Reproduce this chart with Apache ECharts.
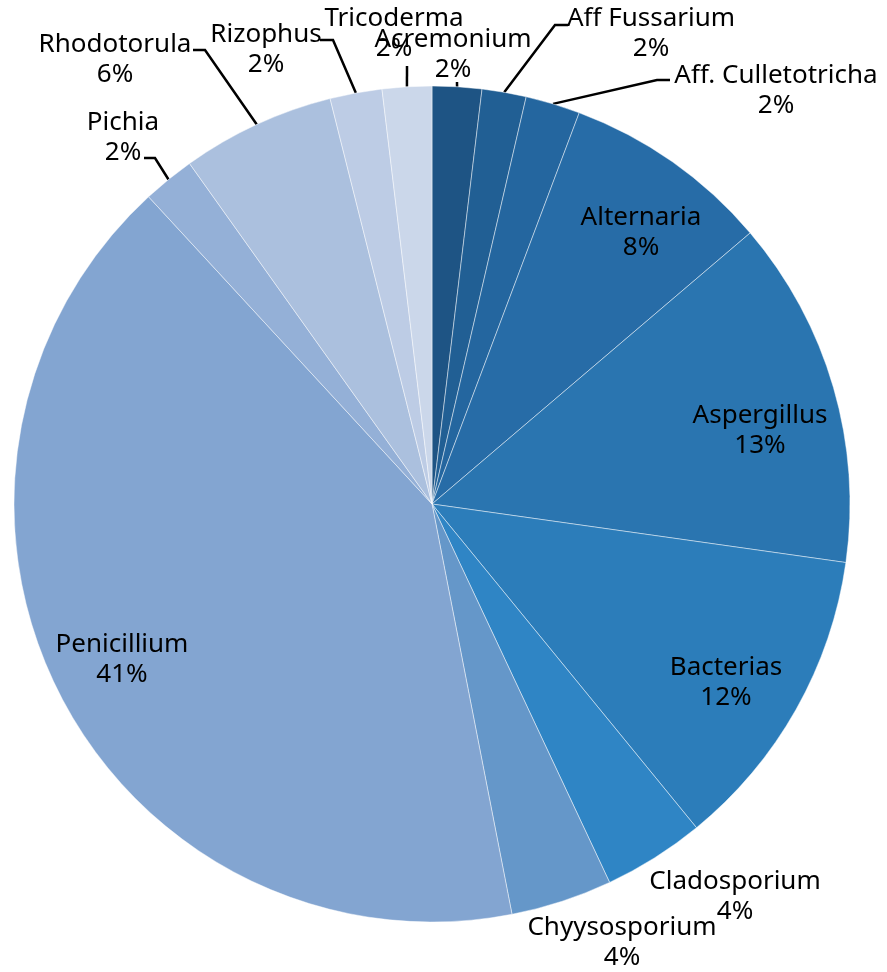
<!DOCTYPE html>
<html style="height: 100%">
<head>
<meta charset="utf-8">
<script src="https://cdn.jsdelivr.net/npm/echarts@6/dist/echarts.min.js"></script>
</head>
<body style="height: 100%; margin: 0; background: #fff">
<div id="container" style="width: 887px; height: 972px"></div>
<script type="text/javascript">
// data (clockwise from 12 o'clock)
var names = ['Acremonium', 'Aff Fussarium', 'Aff. Culletotricha', 'Alternaria', 'Aspergillus',
    'Bacterias', 'Cladosporium', 'Chyysosporium', 'Penicillium', 'Pichia', 'Rhodotorula',
    'Rizophus', 'Tricoderma'];
var values = [1.9, 1.7, 2.1, 8.0, 13.4, 11.8, 3.9, 3.9, 41.0, 2.0, 5.9, 2.0, 1.9];
var colors = ['#1e5484', '#215f94', '#24669f', '#276ca7', '#2a75b0', '#2c7dba', '#2f85c5',
    '#6597c9', '#83a5d1', '#94b0d7', '#abc0de', '#bdcce5', '#cbd7ea'];

// label placement: [centerX, centerY, lineEndX, lineEndY, elbowX] (no line when only 2 values)
var labelSpots = [
    [453, 55, 457, 82, 457],
    [651, 34, 568, 25, 555],
    [776, 91, 670, 80, 657],
    [641, 233],
    [760, 431],
    [726, 683],
    [735, 897],
    [622, 943],
    [122, 660],
    [123, 138, 144, 158, 155],
    [115, 60, 193, 50, 205],
    [266, 50, 320, 40, 333],
    [394, 34, 407, 66, 407]
];

var dom = document.getElementById('container');
var myChart = echarts.init(dom);

var pieData = names.map(function (n, i) {
    return {
        name: n,
        value: values[i],
        itemStyle: { color: colors[i] },
        labelLine: { show: labelSpots[i].length > 2 }
    };
});

var option = {
    animation: false,
    series: [{
        type: 'pie',
        center: [432, 504],
        radius: 418,
        startAngle: 90,
        clockwise: true,
        avoidLabelOverlap: false,
        percentPrecision: 0,
        itemStyle: {
            borderColor: 'rgba(255,255,255,0.45)',
            borderWidth: 1
        },
        label: {
            position: 'outside',
            formatter: '{b}\n{d}%',
            fontFamily: 'Noto Sans',
            fontSize: 26,
            lineHeight: 30,
            color: '#000',
            align: 'center'
        },
        labelLine: {
            show: true,
            lineStyle: { color: '#000', width: 2.5 }
        },
        labelLayout: function (params) {
            var s = labelSpots[params.dataIndex];
            var res = { x: s[0], y: s[1], align: 'center', verticalAlign: 'middle' };
            if (s.length > 2 && params.labelLinePoints) {
                var p0 = params.labelLinePoints[0];
                res.labelLinePoints = [[p0[0], p0[1]], [s[4], s[3]], [s[2], s[3]]];
            }
            return res;
        },
        data: pieData
    }]
};

myChart.setOption(option, true);
</script>
</body>
</html>
